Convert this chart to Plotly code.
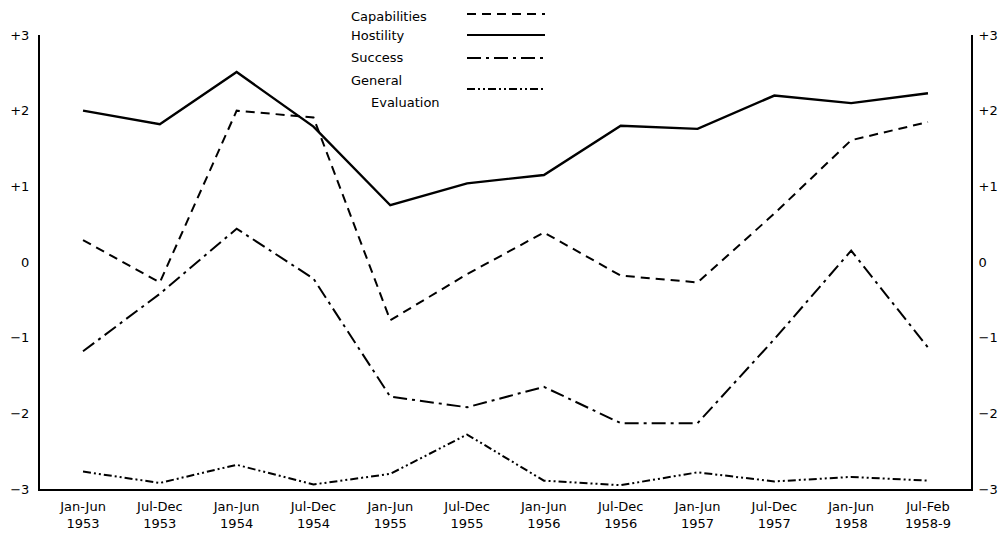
import plotly.graph_objects as go

periods = ["Jan-Jun<br>1953", "Jul-Dec<br>1953", "Jan-Jun<br>1954", "Jul-Dec<br>1954",
           "Jan-Jun<br>1955", "Jul-Dec<br>1955", "Jan-Jun<br>1956", "Jul-Dec<br>1956",
           "Jan-Jun<br>1957", "Jul-Dec<br>1957", "Jan-Jun<br>1958", "Jul-Feb<br>1958-9"]

capabilities = [0.29, -0.27, 2.00, 1.91, -0.77, -0.16, 0.39, -0.18, -0.27, 0.64, 1.61, 1.85]
hostility = [2.00, 1.82, 2.51, 1.79, 0.75, 1.04, 1.15, 1.80, 1.76, 2.20, 2.10, 2.23]
success = [-1.18, -0.42, 0.44, -0.22, -1.78, -1.92, -1.65, -2.13, -2.13, -1.02, 0.15, -1.13]
general_eval = [-2.77, -2.92, -2.68, -2.94, -2.80, -2.28, -2.89, -2.95, -2.78, -2.90, -2.84, -2.89]

tick_vals = [3, 2, 1, 0, -1, -2, -3]
tick_text = ["+3", "+2", "+1", "0", "\u22121", "\u22122", "\u22123"]

series = [
    ("Capabilities", capabilities, "9px,6px", 2),
    ("Hostility", hostility, "solid", 2.4),
    ("Success", success, "14px,5px,3px,5px", 2),
    ("General Evaluation", general_eval, "8px,3px,2px,3px,2px,3px", 2),
]

FONT = "DejaVu Sans"
# page body has an 8px margin; figure sized so it fits the 1008x544 window
OFF = 8
W, H = 992, 528
L, R, T, B = 40 - OFF, 29, 35 - OFF, 47

fig = go.Figure()
x_idx = list(range(len(periods)))
for name, vals, dash, w in series:
    fig.add_trace(go.Scatter(x=x_idx, y=vals, mode="lines", name=name,
                             line=dict(color="black", width=w, dash=dash),
                             showlegend=False))
# invisible trace for the right axis
fig.add_trace(go.Scatter(x=x_idx, y=hostility, yaxis="y2", mode="lines",
                         line=dict(width=0), opacity=0, showlegend=False, hoverinfo="skip"))


def px_to_paper(px, py):
    # px, py are window pixel coordinates
    px -= OFF
    py -= OFF
    return (px - L) / (W - L - R), (H - B - py) / (H - T - B)


annotations = []
shapes = []
legend_items = [
    ("Capabilities", 350, 16, 14, "9px,6px"),
    ("Hostility", 350, 35, 35, "solid"),
    ("Success", 350, 58, 58, "14px,5px,3px,5px"),
    ("General", 350, 80, 89, "8px,3px,2px,3px,2px,3px"),
]
for text, tx, ty, ly, dash in legend_items:
    px, py = px_to_paper(tx, ty)
    annotations.append(dict(text=text, x=px, y=py, xref="paper", yref="paper",
                            xanchor="left", yanchor="middle", showarrow=False, borderpad=0,
                            font=dict(family=FONT, size=13, color="black")))
    x0, y0 = px_to_paper(467, ly)
    x1, _ = px_to_paper(545, ly)
    shapes.append(dict(type="line", xref="paper", yref="paper", x0=x0, x1=x1, y0=y0, y1=y0,
                       line=dict(color="black", width=2, dash=dash)))
px, py = px_to_paper(370, 102)
annotations.append(dict(text="Evaluation", x=px, y=py, xref="paper", yref="paper",
                        xanchor="left", yanchor="middle", showarrow=False, borderpad=0,
                        font=dict(family=FONT, size=13, color="black")))

fig.update_layout(
    width=W, height=H,
    margin=dict(l=L, r=R, t=T, b=B, autoexpand=False),
    paper_bgcolor="white", plot_bgcolor="white",
    font=dict(family=FONT, size=12, color="black"),
    xaxis=dict(tickmode="array", tickvals=x_idx, ticktext=periods, range=[-0.56, 11.56],
               showgrid=False, zeroline=False, showline=True, linecolor="black", linewidth=2,
               ticks="", tickfont=dict(size=13), ticklabelstandoff=4, automargin=False),
    yaxis=dict(range=[-3, 3], tickmode="array", tickvals=tick_vals, ticktext=tick_text,
               showgrid=False, zeroline=False, showline=True, linecolor="black", linewidth=2,
               ticks="", tickfont=dict(size=13), ticklabelstandoff=6, automargin=False),
    yaxis2=dict(range=[-3, 3], overlaying="y", side="right", tickmode="array",
                tickvals=tick_vals, ticktext=tick_text, showgrid=False, zeroline=False,
                showline=True, linecolor="black", linewidth=2, ticks="", tickfont=dict(size=13),
                ticklabelstandoff=3, automargin=False),
    annotations=annotations,
    shapes=shapes,
    showlegend=False,
)

fig.write_html("out.html")
